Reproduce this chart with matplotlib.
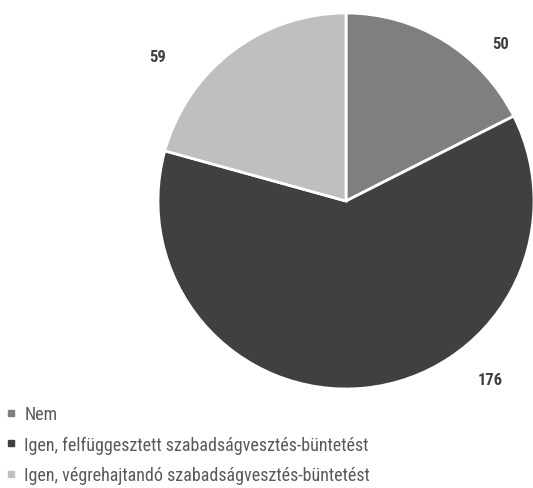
import matplotlib.pyplot as plt
from matplotlib.lines import Line2D

# data
labels = ["Nem",
          "Igen, felfüggesztett szabadságvesztés-büntetést",
          "Igen, végrehajtandó szabadságvesztés-büntetést"]
values = [50, 176, 59]
colors = ["#7f7f7f", "#404040", "#bfbfbf"]

# where the value labels sit (in units of the pie radius)
label_pos = [(0.82, 0.84), (0.77, -0.95), (-1.0, 0.77)]

plt.rcParams['font.family'] = ['Roboto Condensed', 'DejaVu Sans']

fig = plt.figure(figsize=(5.33, 4.89), dpi=100)
W, H = 533, 489
cx, cy, r = 346, 202, 188
ax = fig.add_axes([(cx - r) / W, (H - cy - r) / H, 2 * r / W, 2 * r / H])

ax.pie(values, colors=colors, startangle=90, counterclock=False,
       wedgeprops=dict(edgecolor="white", linewidth=2))
ax.set_xlim(-1, 1)
ax.set_ylim(-1, 1)
ax.set_aspect("equal")

for v, (x, y) in zip(values, label_pos):
    ax.text(x, y, str(v), ha="center", va="center", fontsize=12,
            fontweight="bold", color="#404040")

handles = [Line2D([], [], marker="s", linestyle="", markersize=5,
                  markerfacecolor=c, markeredgecolor=c) for c in colors]
fig.legend(handles, labels, loc="upper left", bbox_to_anchor=(0.0, 1 - 401 / H),
           frameon=False, fontsize=13, labelcolor="#595959",
           handlelength=0.6, handletextpad=0.45, labelspacing=0.68,
           borderaxespad=0, borderpad=0.3)

fig.savefig("out.png", dpi=100)
